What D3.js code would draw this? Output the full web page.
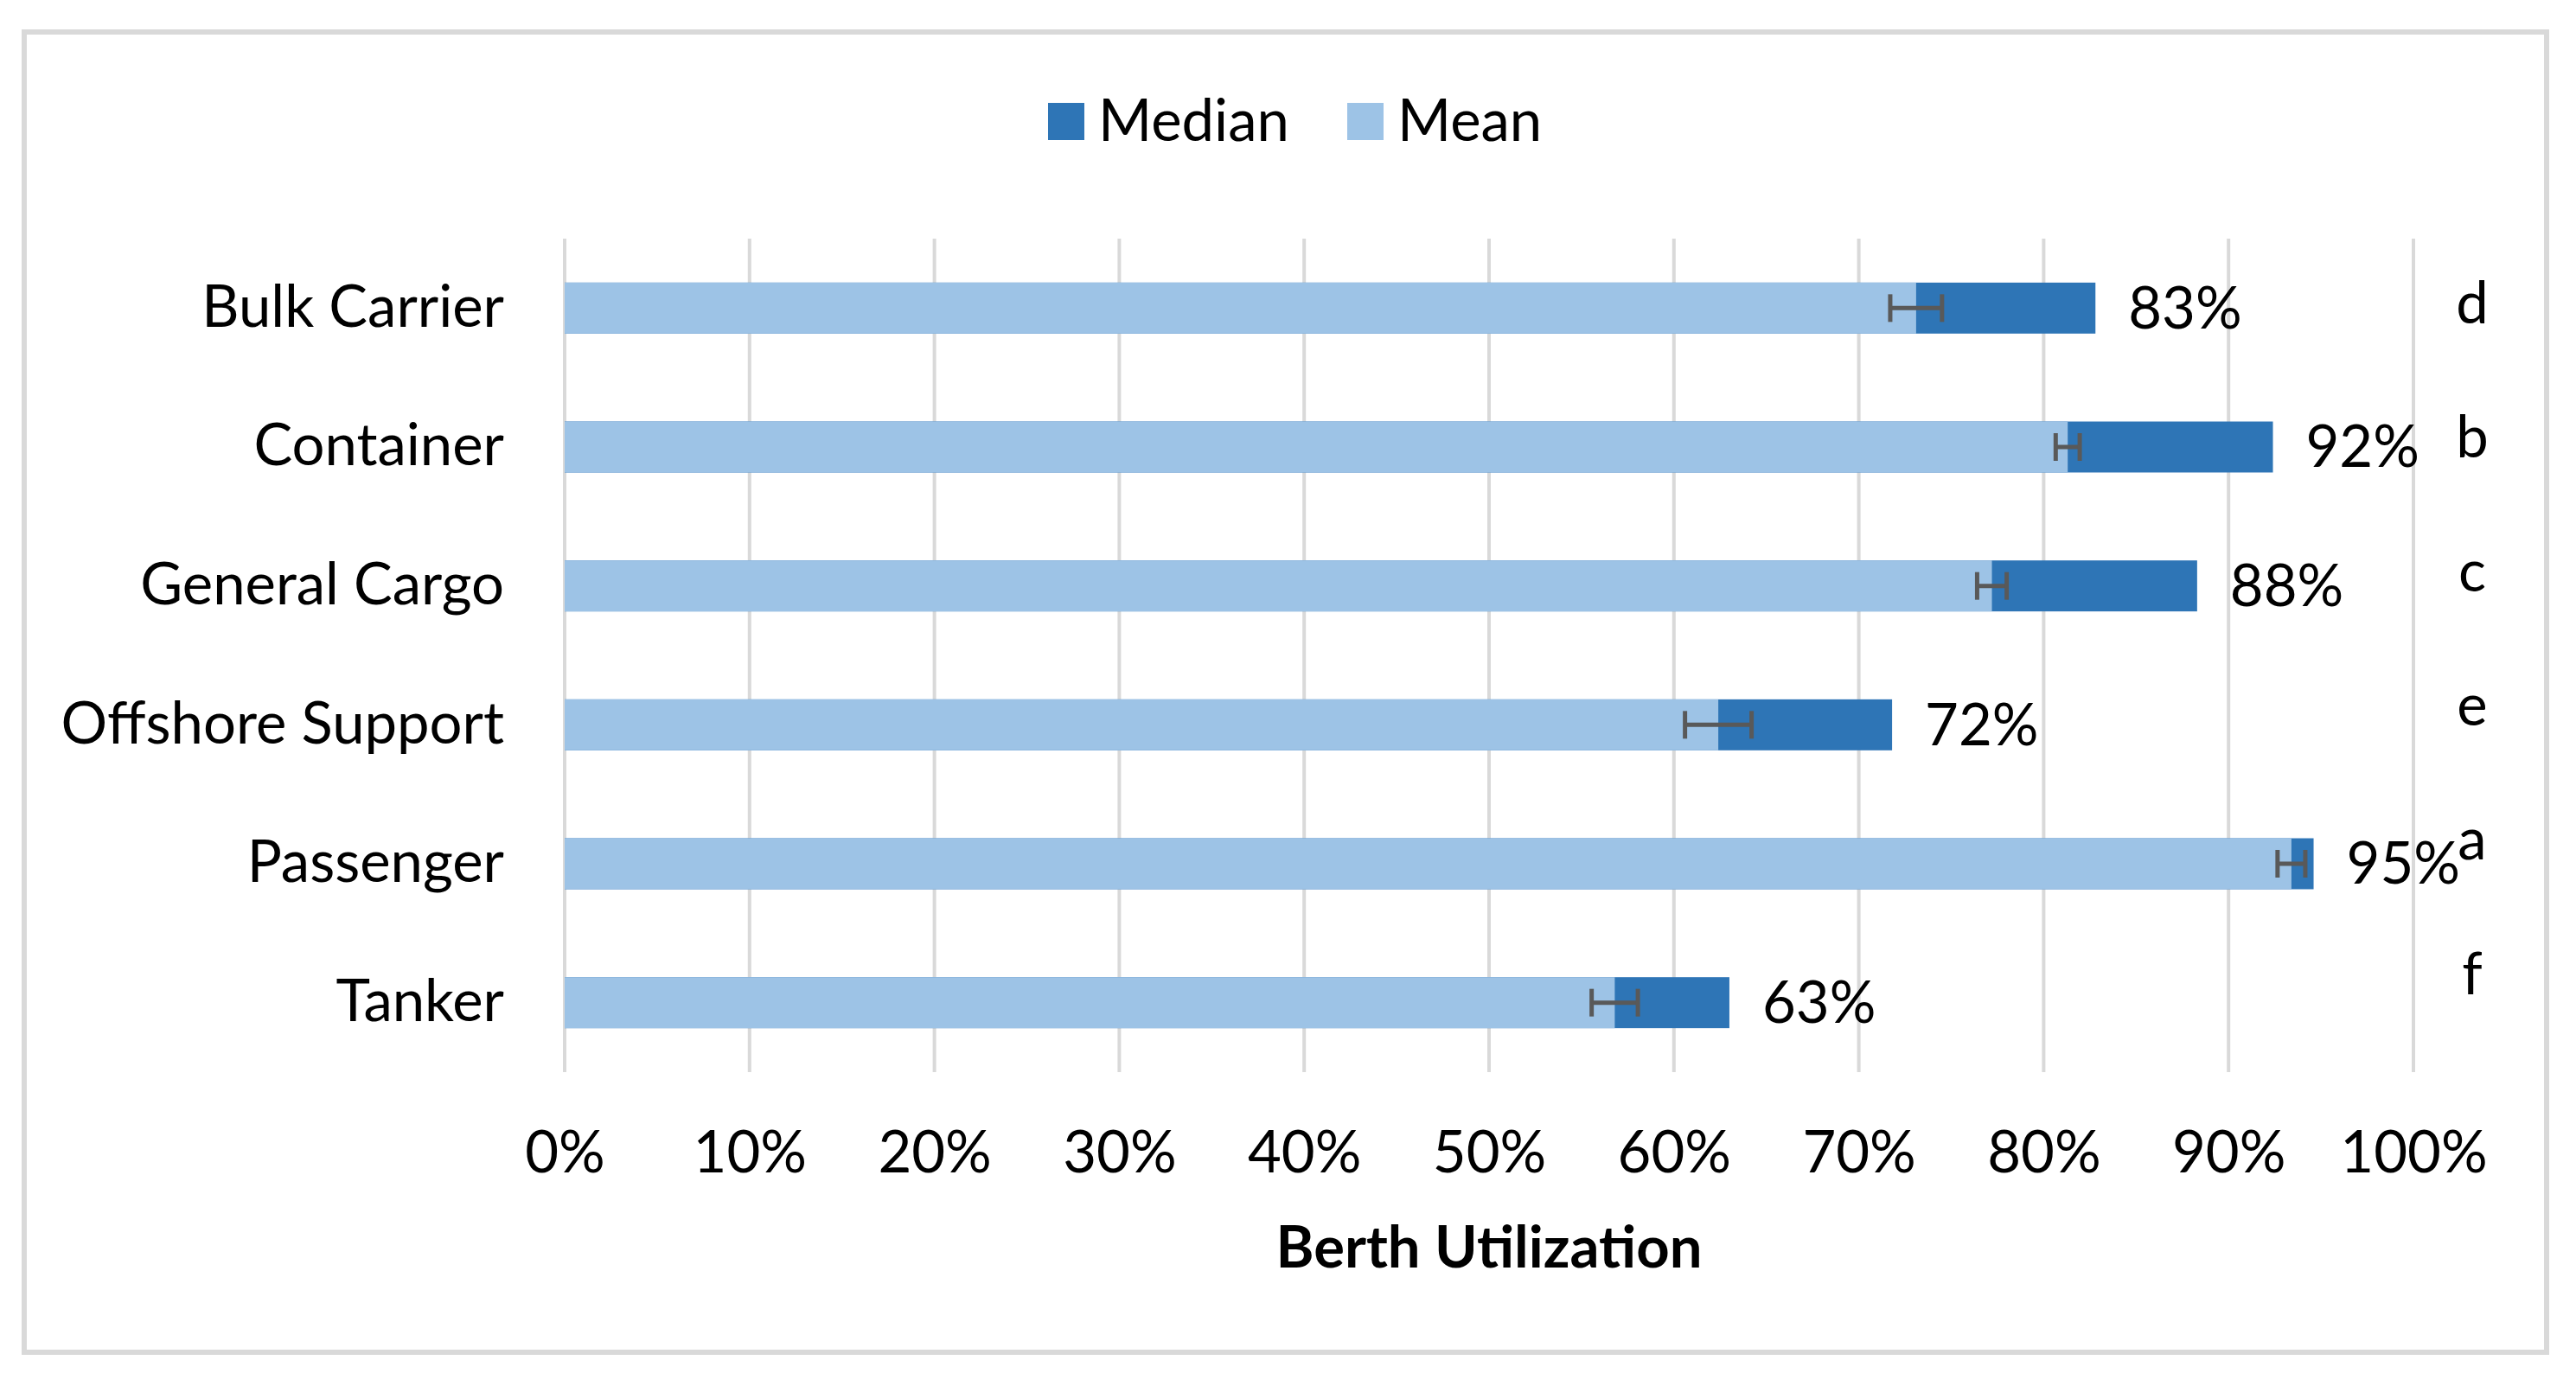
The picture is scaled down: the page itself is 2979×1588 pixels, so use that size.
<!DOCTYPE html>
<html>
<head>
<meta charset="utf-8">
<script src="https://cdn.jsdelivr.net/npm/d3@7"></script>
<style>
  html, body { margin: 0; padding: 0; background: #fff; }
  svg { display: block; font-family: Lato, "Open Sans", sans-serif; }
</style>
</head>
<body>
<svg id="chart" width="2979" height="1588"></svg>
<script>
// ---- data ----
const categories = ["Bulk Carrier", "Container", "General Cargo", "Offshore Support", "Passenger", "Tanker"];
const medianValues = [0.828, 0.924, 0.883, 0.718, 0.946, 0.630];
const meanValues   = [0.731, 0.813, 0.772, 0.624, 0.934, 0.568];
const meanErrors   = [0.014, 0.0065, 0.008, 0.018, 0.0075, 0.0125];
const groupLetters = ["d", "b", "c", "e", "a", "f"];
const xTicks = [0, 0.1, 0.2, 0.3, 0.4, 0.5, 0.6, 0.7, 0.8, 0.9, 1.0];
const seriesNames = ["Median", "Mean"];
const seriesColors = ["#2E75B6", "#9DC3E6"];

// ---- layout ----
const W = 2979, H = 1588;
const plot = { left: 653, right: 2791, top: 276, bottom: 1240 };
const fontSize = 67;

const svg = d3.select("#chart");

// frame
svg.append("rect")
  .attr("x", 28).attr("y", 37)
  .attr("width", 2917).attr("height", 1527)
  .attr("fill", "#fff").attr("stroke", "#D9D9D9").attr("stroke-width", 6);

const x = d3.scaleLinear().domain([0, 1]).range([plot.left, plot.right]);
const y = d3.scaleBand().domain(categories).range([plot.top, plot.bottom]).padding(0);
const barH = y.step() * 0.367;
const cy = d => y(d) + y.step() / 2;

// gridlines
svg.append("g").selectAll("line").data(xTicks).join("line")
  .attr("x1", d => x(d)).attr("x2", d => x(d))
  .attr("y1", plot.top).attr("y2", plot.bottom)
  .attr("stroke", "#D9D9D9").attr("stroke-width", 4);

// x tick labels
const xAxis = d3.axisBottom(x).tickValues(xTicks).tickFormat(d3.format(".0%")).tickSize(0).tickPadding(0);
const gx = svg.append("g").attr("transform", `translate(0, ${plot.bottom + 68})`).call(xAxis);
gx.select(".domain").remove();
gx.selectAll("text").attr("font-size", fontSize).attr("fill", "#000")
  .attr("font-family", "Lato, sans-serif").attr("dy", "0.71em");

// y labels
const yAxis = d3.axisLeft(y).tickSize(0).tickPadding(0);
const gy = svg.append("g").attr("transform", `translate(${plot.left - 70}, 0)`).call(yAxis);
gy.select(".domain").remove();
gy.selectAll("text").attr("font-size", fontSize).attr("fill", "#000")
  .attr("font-family", "Lato, sans-serif");

// median bars (behind)
svg.append("g").selectAll("rect").data(categories).join("rect")
  .attr("x", x(0)).attr("y", d => cy(d) - barH / 2)
  .attr("width", (d, i) => x(medianValues[i]) - x(0)).attr("height", barH)
  .attr("fill", seriesColors[0]);

// mean bars (front)
svg.append("g").selectAll("rect").data(categories).join("rect")
  .attr("x", x(0)).attr("y", d => cy(d) - barH / 2)
  .attr("width", (d, i) => x(meanValues[i]) - x(0)).attr("height", barH)
  .attr("fill", seriesColors[1]);

// error bars
const eb = svg.append("g").attr("stroke", "#595959").attr("stroke-width", 5).attr("fill", "none");
categories.forEach((c, i) => {
  const lo = x(meanValues[i] - meanErrors[i]), hi = x(meanValues[i] + meanErrors[i]);
  const yc = cy(c), cap = 16;
  eb.append("line").attr("x1", lo).attr("x2", hi).attr("y1", yc).attr("y2", yc);
  eb.append("line").attr("x1", lo).attr("x2", lo).attr("y1", yc - cap).attr("y2", yc + cap);
  eb.append("line").attr("x1", hi).attr("x2", hi).attr("y1", yc - cap).attr("y2", yc + cap);
});

// value labels
svg.append("g").selectAll("text").data(categories).join("text")
  .attr("x", (d, i) => x(medianValues[i]) + 38)
  .attr("y", d => cy(d))
  .attr("dy", "0.35em")
  .attr("font-size", fontSize)
  .text((d, i) => d3.format(".0%")(medianValues[i]));

// group letters
svg.append("g").selectAll("text").data(categories).join("text")
  .attr("x", x(1) + 68)
  .attr("y", (d, i) => cy(d) - 6 - 5.5 * i)
  .attr("dy", "0.35em")
  .attr("text-anchor", "middle")
  .attr("font-size", fontSize)
  .text((d, i) => groupLetters[i]);

// axis title
svg.append("text")
  .attr("x", (plot.left + plot.right) / 2).attr("y", 1466)
  .attr("text-anchor", "middle")
  .attr("font-size", fontSize).attr("font-weight", "bold")
  .text("Berth Utilization");

// legend
const legendItems = [
  { name: seriesNames[0], color: seriesColors[0], x: 1212 },
  { name: seriesNames[1], color: seriesColors[1], x: 1558 }
];
const lg = svg.append("g");
legendItems.forEach(it => {
  lg.append("rect").attr("x", it.x).attr("y", 119).attr("width", 42).attr("height", 43).attr("fill", it.color);
  lg.append("text").attr("x", it.x + 58).attr("y", 163).attr("font-size", fontSize).text(it.name);
});
</script>
</body>
</html>
